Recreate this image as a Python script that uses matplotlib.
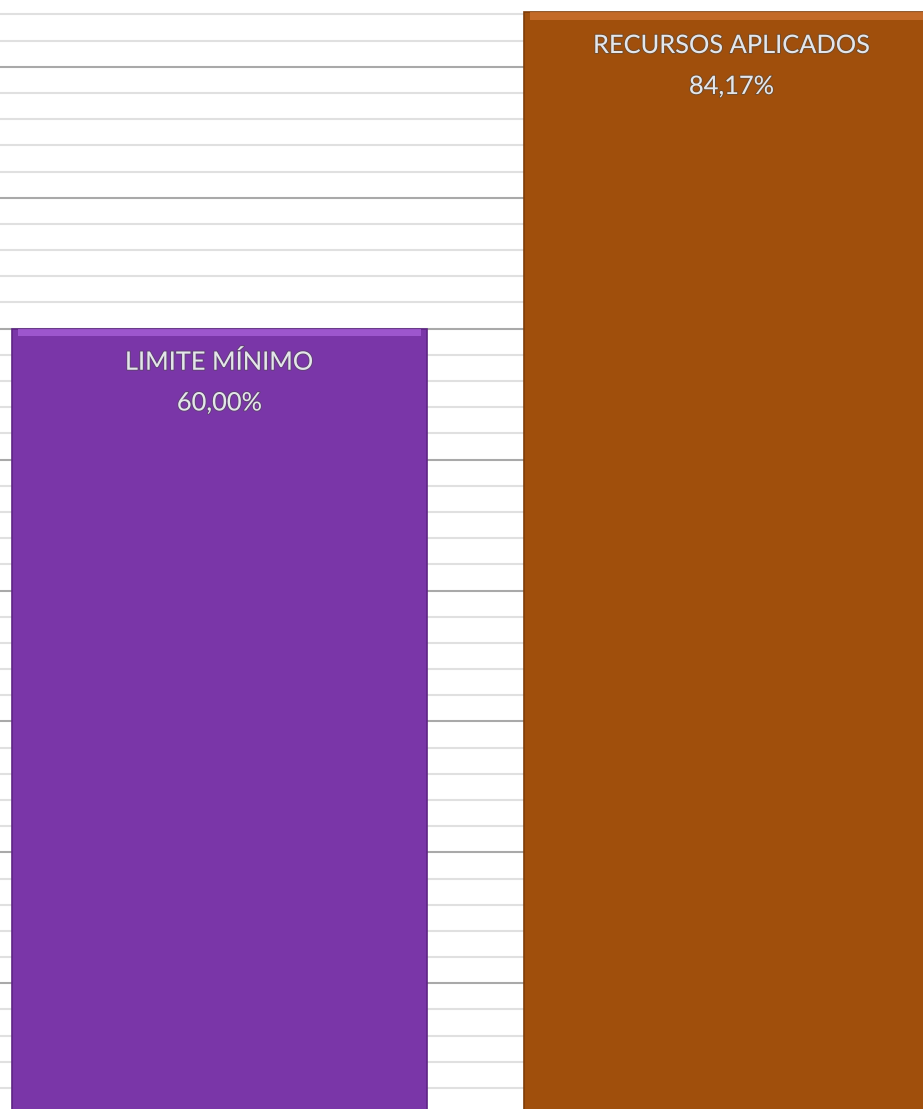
import numpy as np
import matplotlib.pyplot as plt
import matplotlib.patheffects as pe

# Dados do gráfico
categorias = ['LIMITE MÍNIMO', 'RECURSOS APLICADOS']
valores = [60.00, 84.17]
rotulos = ['60,00%', '84,17%']
cores = ['#7A36A8', '#A04F0C']
cores_topo = ['#AA62DA', '#D07432']
cores_borda = ['#5E2584', '#7E3C08']

fig = plt.figure(figsize=(9.23, 11.09), dpi=100)
ax = fig.add_axes([0, 0, 1, 1])

x = np.arange(len(categorias))
largura = 0.81

# Linhas de grade (principais a cada 10%, secundárias a cada 2%)
for v in np.arange(0, 101, 2):
    if v % 10 == 0:
        ax.axhline(v, color='#A9A9A9', lw=1.5, zorder=1)
    else:
        ax.axhline(v, color='#E0E0E0', lw=1.5, zorder=1)

ax.bar(x, valores, width=largura, color=cores, edgecolor=cores_borda, lw=1.2, zorder=2)
# faixa clara no topo (efeito de bisel)
ax.bar(x, [0.6] * len(x), bottom=np.array(valores) - 0.6, width=largura * 0.97,
       color=cores_topo, lw=0, zorder=3, alpha=0.75)

efeito = [pe.withStroke(linewidth=1.5, foreground='#4a4a4a', alpha=0.5)]
for xi, v, cat, rot in zip(x, valores, categorias, rotulos):
    ax.annotate(cat, (xi, v), xytext=(0, -24), textcoords='offset points',
                ha='center', va='center', fontsize=18.3, family='Lato',
                color='#E4E6EA', zorder=4, path_effects=efeito)
    ax.annotate(rot, (xi, v), xytext=(0, -53.5), textcoords='offset points',
                ha='center', va='center', fontsize=18.3, family='Lato',
                color='#E4E6EA', zorder=4, path_effects=efeito)

ax.set_xlim(-0.4287, 1.374)
ax.set_ylim(0.4, 85.1)
ax.axis('off')

fig.savefig('out.png', dpi=100, facecolor='white')
